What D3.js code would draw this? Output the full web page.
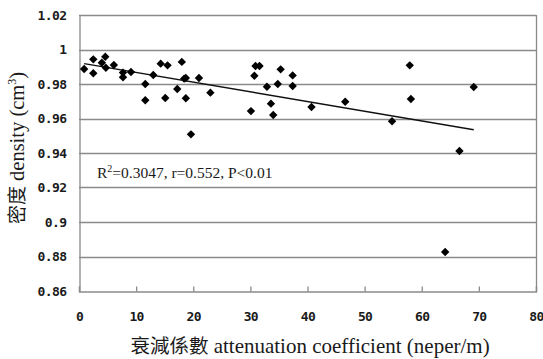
<!DOCTYPE html>
<html>
<head>
<meta charset="utf-8">
<script src="https://cdn.jsdelivr.net/npm/d3@7"></script>
<style>
  html, body { margin: 0; padding: 0; background: #fff; }
  svg { display: block; }
  .tick-label { font-family: "DejaVu Sans Mono", "Liberation Mono", monospace; font-weight: bold; font-size: 13px; letter-spacing: -0.6px; fill: #1a1a1a; }
  .title { font-family: "Liberation Serif", "Noto Sans CJK TC", serif; fill: #1a1a1a; }
  .cjk { font-family: "Noto Sans CJK TC", sans-serif; }
</style>
</head>
<body>
<svg id="chart" width="543" height="359"></svg>
<script>
// Attenuation coefficient (neper/m) and density (cm^3) per sample
const attenuation = [0.9, 2.5, 2.5, 4.0, 4.6, 4.7, 6.1, 7.7, 7.7, 9.1, 11.6, 11.6, 13.0, 14.3, 15.1, 15.5,
  17.2, 18.0, 18.4, 18.7, 18.7, 19.6, 21.0, 23.0, 30.1, 30.7, 30.9, 31.6, 32.9, 33.6, 34.0, 34.8, 35.3,
  37.4, 37.4, 40.7, 46.6, 54.8, 57.9, 58.1, 64.1, 66.6, 69.1];
const density = [0.9887, 0.9943, 0.9862, 0.9923, 0.9958, 0.9894, 0.9910, 0.9866, 0.9839, 0.9870, 0.9800, 0.9706,
  0.9852, 0.9918, 0.9719, 0.9908, 0.9771, 0.9928, 0.9831, 0.9835, 0.9717, 0.9508, 0.9835, 0.9750, 0.9643,
  0.9848, 0.9904, 0.9904, 0.9784, 0.9686, 0.9620, 0.9800, 0.9885, 0.9850, 0.9788, 0.9667, 0.9697, 0.9584,
  0.9908, 0.9713, 0.8826, 0.9412, 0.9783];

// Linear fit: density = intercept + slope * attenuation
const fitIntercept = 0.9923;
const fitSlope = -0.000562;

const xTicks = [0, 10, 20, 30, 40, 50, 60, 70, 80];
const yTicks = [0.86, 0.88, 0.90, 0.92, 0.94, 0.96, 0.98, 1.00, 1.02];
const yTickLabels = ["0.86", "0.88", "0.9", "0.92", "0.94", "0.96", "0.98", "1", "1.02"];

const svg = d3.select("#chart");
const plot = { left: 79, right: 536, top: 15, bottom: 291 };

const x = d3.scaleLinear().domain([0, 80]).range([plot.left, plot.right]);
const y = d3.scaleLinear().domain([0.86, 1.02]).range([plot.bottom, plot.top]);

const gridColor = "#8a8a8a";

// Horizontal gridlines
svg.append("g").selectAll("line").data(yTicks.slice(1)).join("line")
  .attr("x1", plot.left).attr("x2", plot.right)
  .attr("y1", d => Math.round(y(d)) + 0.5).attr("y2", d => Math.round(y(d)) + 0.5)
  .attr("stroke", gridColor).attr("stroke-width", 1.3);

// Right border of the plot area
svg.append("line")
  .attr("x1", plot.right + 0.5).attr("x2", plot.right + 0.5)
  .attr("y1", plot.top).attr("y2", plot.bottom)
  .attr("stroke", gridColor).attr("stroke-width", 1.3);

// X axis
const xAxis = svg.append("g")
  .attr("transform", `translate(0,${Math.round(plot.bottom) + 0.5})`)
  .call(d3.axisBottom(x).tickValues(xTicks).tickSize(-5).tickPadding(20).tickFormat(d3.format("d")));
xAxis.select(".domain").attr("stroke", gridColor).attr("stroke-width", 1.3);
xAxis.selectAll(".tick line").attr("stroke", gridColor).attr("stroke-width", 1.3);
xAxis.selectAll(".tick text").attr("class", "tick-label").attr("font-family", null).attr("font-size", null)
  .attr("dy", "0.71em");

// Y axis
const yAxis = svg.append("g")
  .attr("transform", `translate(${plot.left + 0.5},0)`)
  .call(d3.axisLeft(y).tickValues(yTicks).tickSize(0).tickPadding(13)
    .tickFormat((d, i) => yTickLabels[i]));
yAxis.select(".domain").attr("stroke", gridColor).attr("stroke-width", 1.3);
yAxis.selectAll(".tick text").attr("class", "tick-label").attr("font-family", null).attr("font-size", null);

// Regression line over the data range
const xExt = d3.extent(attenuation);
const fitLine = d3.line().x(d => x(d)).y(d => y(fitIntercept + fitSlope * d));
svg.append("path")
  .attr("d", fitLine(xExt))
  .attr("fill", "none").attr("stroke", "#111").attr("stroke-width", 1.4);

// Diamond markers
const diamond = "M0,-4.2L4.2,0L0,4.2L-4.2,0Z";
svg.append("g").selectAll("path").data(d3.range(attenuation.length)).join("path")
  .attr("d", diamond)
  .attr("transform", i => `translate(${x(attenuation[i])},${y(density[i])})`)
  .attr("fill", "#000");

// Statistics annotation
const stat = svg.append("text").attr("class", "title")
  .attr("x", 97).attr("y", 178).attr("font-size", 15.5);
stat.append("tspan").text("R");
stat.append("tspan").text("2").attr("font-size", 10).attr("dy", -6);
stat.append("tspan").text("=0.3047, r=0.552, P<0.01").attr("dy", 6);

// X axis title
const xt = svg.append("text").attr("class", "title")
  .attr("x", 310).attr("y", 353)
  .attr("text-anchor", "middle").attr("font-size", 21);
xt.append("tspan").attr("class", "cjk").attr("font-size", 19.5).text("衰減係數");
xt.append("tspan").text(" attenuation coefficient (neper/m)");

// Y axis title
const yt = svg.append("text").attr("class", "title")
  .attr("transform", "translate(24,148) rotate(-90)")
  .attr("text-anchor", "middle").attr("font-size", 20.5);
yt.append("tspan").attr("class", "cjk").attr("font-size", 19).text("密度");
yt.append("tspan").text(" density (cm");
yt.append("tspan").text("3").attr("font-size", 12).attr("dy", -8);
yt.append("tspan").text(")").attr("dy", 8);
</script>
</body>
</html>
